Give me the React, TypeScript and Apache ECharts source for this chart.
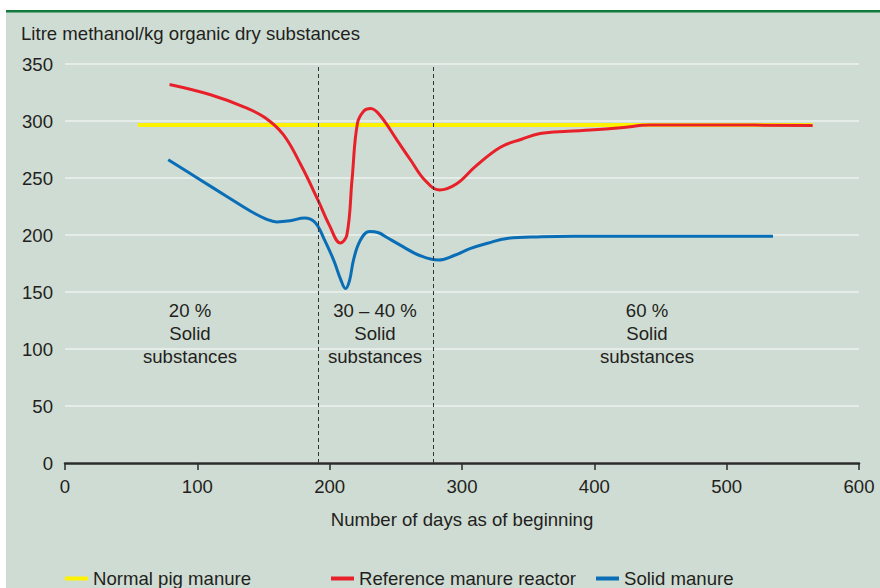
import React, { useEffect, useRef } from "react";
import * as echarts from "echarts";

const xTicks = [0, 100, 200, 300, 400, 500, 600];
const yTicks = [0, 50, 100, 150, 200, 250, 300, 350];
const phaseBoundaries = [191, 278];
const phaseLabels = ["20 %\nSolid\nsubstances", "30 – 40 %\nSolid\nsubstances", "60 %\nSolid\nsubstances"];
const seriesNames = ["Normal pig manure", "Reference manure reactor", "Solid manure"];

const normalPigManure: [number, number][] = [
  [55, 296.5],
  [565, 296.5],
];

const referenceReactor: [number, number][] = [
  [79, 332], [110, 323], [136, 312], [151, 303], [165, 288], [178, 262],
  [191, 231], [200, 208], [208, 193], [213, 200], [217, 250], [221, 298],
  [226, 309], [231, 311], [238, 305], [251, 283], [261, 266], [272, 248],
  [283, 239.5], [296, 245], [310, 260], [329, 277], [345, 284],
  [359, 289], [380, 291], [397, 292], [420, 294], [442, 296.5], [500, 296.5],
  [565, 296],
];

const solidManure: [number, number][] = [
  [78, 266], [100, 250], [122, 234], [140, 221], [152, 214], [160, 211.5],
  [170, 212.5], [181, 215], [189, 211], [196, 196], [203, 178], [208, 162], [212, 153],
  [215, 160], [218, 178], [223, 195], [230, 203], [237, 202], [243, 198],
  [255, 190], [268, 182], [282, 178], [294, 182], [306, 188], [320, 193],
  [334, 197], [360, 198.5], [384, 199], [450, 199], [535, 199],
];

const FONT = "Liberation Sans, Arial, sans-serif";
const TXT = "#231f20";
const FS = 18.6;

export default function App() {
  const ref = useRef<HTMLDivElement>(null);
  useEffect(() => {
    if (!ref.current) return;
    const chart = echarts.init(ref.current, undefined, { renderer: "svg" });
    const legendCommon = {
      top: 564,
      icon: "rect",
      itemWidth: 23,
      itemHeight: 4,
      textStyle: { fontFamily: FONT, fontSize: FS, color: TXT },
      selectedMode: false,
    };
    chart.setOption({
      animation: false,
      backgroundColor: "#ffffff",
      textStyle: { fontFamily: FONT },
      graphic: [
        { type: "rect", z: -10, silent: true, shape: { x: 6, y: 11, width: 874, height: 577 }, style: { fill: "#cfdcd3" } },
        { type: "rect", z: -9, silent: true, shape: { x: 6, y: 10, width: 874, height: 2.5 }, style: { fill: "#127a3d" } },
        {
          type: "text", x: 21, y: 33, silent: true,
          style: { text: "Litre methanol/kg organic dry substances", font: `${FS}px ${FONT}`, fill: TXT, verticalAlign: "middle", align: "left" },
        },
        {
          type: "text", x: 190, y: 333, silent: true,
          style: { text: phaseLabels[0], font: `${FS}px ${FONT}`, fill: TXT, align: "center", verticalAlign: "middle", lineHeight: 23 },
        },
        {
          type: "text", x: 375, y: 333, silent: true,
          style: { text: phaseLabels[1], font: `${FS}px ${FONT}`, fill: TXT, align: "center", verticalAlign: "middle", lineHeight: 23 },
        },
        {
          type: "text", x: 647, y: 333, silent: true,
          style: { text: phaseLabels[2], font: `${FS}px ${FONT}`, fill: TXT, align: "center", verticalAlign: "middle", lineHeight: 23 },
        },
      ],
      legend: [
        { ...legendCommon, left: 60, data: [seriesNames[0]] },
        { ...legendCommon, left: 326, data: [seriesNames[1]] },
        { ...legendCommon, left: 591, data: [seriesNames[2]] },
      ],
      grid: { left: 65, right: 21, top: 64, bottom: 125, containLabel: false },
      xAxis: {
        type: "value",
        min: xTicks[0],
        max: xTicks[xTicks.length - 1],
        interval: 100,
        name: "Number of days as of beginning",
        nameLocation: "middle",
        nameGap: 47,
        nameTextStyle: { fontFamily: FONT, fontSize: FS, color: TXT },
        axisLine: { show: true, lineStyle: { color: "#2b2b2b", width: 2.5 } },
        axisTick: { show: true, length: 7, lineStyle: { color: "#2b2b2b", width: 1.5 } },
        axisLabel: { fontFamily: FONT, fontSize: FS, color: TXT, margin: 14 },
        splitLine: { show: false },
      },
      yAxis: {
        type: "value",
        min: yTicks[0],
        max: yTicks[yTicks.length - 1],
        interval: 50,
        axisLine: { show: false },
        axisTick: { show: false },
        axisLabel: { fontFamily: FONT, fontSize: FS, color: TXT, margin: 12 },
        splitLine: { show: true, lineStyle: { color: "#eef2ee", width: 1.5 } },
      },
      series: [
        {
          name: seriesNames[0],
          type: "line",
          data: normalPigManure,
          symbol: "none",
          color: "#fff200",
          lineStyle: { color: "#fff200", width: 4 },
          z: 2,
          markLine: {
            silent: true,
            symbol: "none",
            label: { show: false },
            lineStyle: { color: "#333333", width: 1, type: [4, 3] },
            data: phaseBoundaries.map((v) => ({ xAxis: v })),
          },
        },
        {
          name: seriesNames[1],
          type: "line",
          data: referenceReactor,
          symbol: "none",
          smooth: 0.4,
          color: "#e8202a",
          lineStyle: { color: "#e8202a", width: 3 },
          z: 3,
        },
        {
          name: seriesNames[2],
          type: "line",
          data: solidManure,
          symbol: "none",
          smooth: 0.4,
          color: "#0a6eb6",
          lineStyle: { color: "#0a6eb6", width: 3 },
          z: 3,
        },
      ],
    });
    return () => chart.dispose();
  }, []);
  return <div ref={ref} style={{ position: "fixed", left: 0, top: 0, width: 880, height: 588 }} />;
}
